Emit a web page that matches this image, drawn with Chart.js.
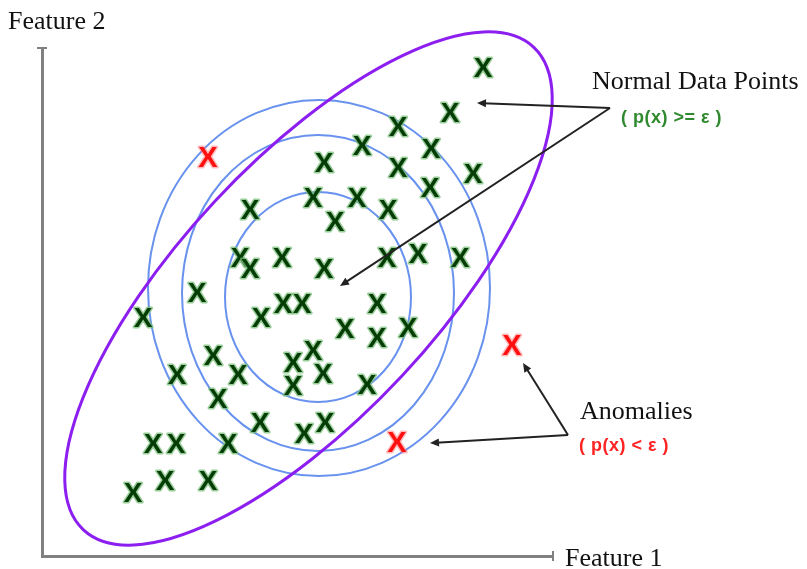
<!DOCTYPE html>
<html>
<head>
<meta charset="utf-8">
<script src="https://cdn.jsdelivr.net/npm/chart.js@4.4.1/dist/chart.umd.min.js"></script>
<style>
  html, body { margin: 0; padding: 0; background: #fff; }
  canvas { display: block; }
</style>
</head>
<body>
<canvas id="myChart" width="807" height="569"></canvas>
<script>
// normal data points (Feature 1, Feature 2)
var normalX = [441, 408, 356, 320, 282, 389, 356, 431, 388, 271, 315, 346, 293, 208, 198, 208,
               240, 282, 345, 376, 418, 155, 101, 219, 241, 260, 335, 303, 335, 366, 171, 271,
               251, 281, 251, 135, 196, 325, 176, 218, 262, 283, 111, 134, 186, 123, 166, 91];
var normalY = [489, 444, 430, 411, 394, 408, 389, 383, 369, 359, 359, 347, 335, 347, 299, 288,
               299, 288, 299, 303, 299, 264, 239, 239, 253, 253, 253, 228, 219, 229, 201, 206,
               194, 183, 171, 182, 182, 172, 158, 134, 123, 134, 113, 113, 113, 76, 76, 64];

// anomalies
var anomalyX = [166, 470, 355];
var anomalyY = [399, 211, 114];

// density contours (centre + radii, same units as the features)
var contourCx = [276, 276, 277];
var contourCy = [259, 263, 268];
var contourRx = [93, 136, 171];
var contourRy = [105, 158, 188];

// tilted ellipse: centre, semi axes, angle (deg)
var tiltCentre = [266.5, 267.5];
var tiltAxes = [330, 128];
var tiltAngle = 47;

// callout arrows
var arrowFrom = [[568, 448], [568, 448], [526, 121], [526, 121]];
var arrowTo   = [[435, 453], [298, 270], [481, 193], [388, 113]];

var serif = '26px "Liberation Serif", "Times New Roman", serif';
var small = 'bold 18px "Liberation Sans Narrow", "Liberation Sans", Arial, sans-serif';
var labels = [
    { text: 'Feature 2', x: -34, y: 534, font: serif, color: '#111' },
    { text: 'Feature 1', x: 523, y: -3, font: serif, color: '#111' },
    { text: 'Normal Data Points', x: 550, y: 474, font: serif, color: '#111' },
    { text: '( p(x) >= \u03b5 )', x: 579, y: 438, font: small, color: '#2f8a2f', spacing: '0.5px' },
    { text: 'Anomalies', x: 538, y: 144, font: serif, color: '#111' },
    { text: '( p(x) < \u03b5 )', x: 537, y: 110, font: small, color: '#ff2424', spacing: '0.5px' }
];

function makeX(fill, halo, size) {
    var c = document.createElement('canvas');
    c.width = 28;
    c.height = 30;
    var g = c.getContext('2d');
    g.font = 'bold ' + size + 'px "Liberation Sans", Arial, sans-serif';
    g.textAlign = 'center';
    g.textBaseline = 'alphabetic';
    var base = (c.height + size * 0.716) / 2;
    g.lineJoin = 'round';
    g.strokeStyle = halo;
    g.lineWidth = 3;
    g.strokeText('X', c.width / 2, base);
    g.fillStyle = fill;
    g.fillText('X', c.width / 2, base);
    return c;
}

var greenX = makeX('#063d06', 'rgba(120,190,120,0.75)', 28);
var redX = makeX('#ff1010', 'rgba(255,120,120,0.5)', 29);

function toPoints(xs, ys) {
    return xs.map(function(v, i) { return { x: v, y: ys[i] }; });
}

function arrow(ctx, x1, y1, x2, y2) {
    var ang = Math.atan2(y2 - y1, x2 - x1);
    ctx.beginPath();
    ctx.moveTo(x1, y1);
    ctx.lineTo(x2 - 6 * Math.cos(ang), y2 - 6 * Math.sin(ang));
    ctx.stroke();
    ctx.beginPath();
    ctx.moveTo(x2, y2);
    ctx.lineTo(x2 - 9 * Math.cos(ang) + 4 * Math.sin(ang), y2 - 9 * Math.sin(ang) - 4 * Math.cos(ang));
    ctx.lineTo(x2 - 9 * Math.cos(ang) - 4 * Math.sin(ang), y2 - 9 * Math.sin(ang) + 4 * Math.cos(ang));
    ctx.closePath();
    ctx.fill();
}

var drawings = {
    id: 'drawings',
    beforeDatasetsDraw: function(chart) {
        var ctx = chart.ctx, x = chart.scales.x, y = chart.scales.y;
        var kx = Math.abs(x.getPixelForValue(1) - x.getPixelForValue(0));
        var ky = Math.abs(y.getPixelForValue(1) - y.getPixelForValue(0));
        ctx.save();
        ctx.strokeStyle = '#6892ee';
        ctx.lineWidth = 2;
        for (var i = 0; i < contourCx.length; i++) {
            ctx.beginPath();
            ctx.ellipse(x.getPixelForValue(contourCx[i]), y.getPixelForValue(contourCy[i]),
                        contourRx[i] * kx, contourRy[i] * ky, 0, 0, Math.PI * 2);
            ctx.stroke();
        }
        ctx.strokeStyle = '#8c1ef0';
        ctx.lineWidth = 3;
        ctx.beginPath();
        ctx.ellipse(x.getPixelForValue(tiltCentre[0]), y.getPixelForValue(tiltCentre[1]),
                    tiltAxes[0] * kx, tiltAxes[1] * ky, -tiltAngle * Math.PI / 180, 0, Math.PI * 2);
        ctx.stroke();
        ctx.restore();
    },
    afterDraw: function(chart) {
        var ctx = chart.ctx, x = chart.scales.x, y = chart.scales.y;
        var area = chart.chartArea;
        ctx.save();
        // axis end caps
        ctx.strokeStyle = '#808080';
        ctx.lineWidth = 2;
        ctx.beginPath();
        ctx.moveTo(area.left - 5, area.top);
        ctx.lineTo(area.left + 5, area.top);
        ctx.moveTo(area.right, area.bottom - 5);
        ctx.lineTo(area.right, area.bottom + 5);
        ctx.stroke();

        ctx.strokeStyle = '#222';
        ctx.fillStyle = '#222';
        ctx.lineWidth = 2;
        for (var i = 0; i < arrowFrom.length; i++) {
            arrow(ctx, x.getPixelForValue(arrowFrom[i][0]), y.getPixelForValue(arrowFrom[i][1]),
                  x.getPixelForValue(arrowTo[i][0]), y.getPixelForValue(arrowTo[i][1]));
        }

        ctx.textAlign = 'left';
        ctx.textBaseline = 'middle';
        labels.forEach(function(l) {
            ctx.font = l.font;
            ctx.fillStyle = l.color;
            ctx.letterSpacing = l.spacing || '0px';
            ctx.fillText(l.text, x.getPixelForValue(l.x), y.getPixelForValue(l.y));
        });
        ctx.restore();
    }
};

var ctx = document.getElementById('myChart').getContext('2d');
var myChart = new Chart(ctx, {
    type: 'scatter',
    data: {
        datasets: [{
            label: 'Normal Data Points',
            data: toPoints(normalX, normalY),
            pointStyle: greenX,
            clip: false
        }, {
            label: 'Anomalies',
            data: toPoints(anomalyX, anomalyY),
            pointStyle: redX,
            clip: false
        }]
    },
    options: {
        responsive: false,
        animation: false,
        devicePixelRatio: 1,
        layout: { padding: { left: 42, right: 254, top: 48, bottom: 13 } },
        plugins: { legend: { display: false }, tooltip: { enabled: false } },
        scales: {
            x: {
                min: 0, max: 511,
                ticks: { display: false },
                grid: { display: false, drawTicks: false },
                border: { color: '#808080', width: 3 }
            },
            y: {
                min: 0, max: 508,
                ticks: { display: false },
                grid: { display: false, drawTicks: false },
                border: { color: '#808080', width: 3 }
            }
        }
    },
    plugins: [drawings]
});
</script>
</body>
</html>
